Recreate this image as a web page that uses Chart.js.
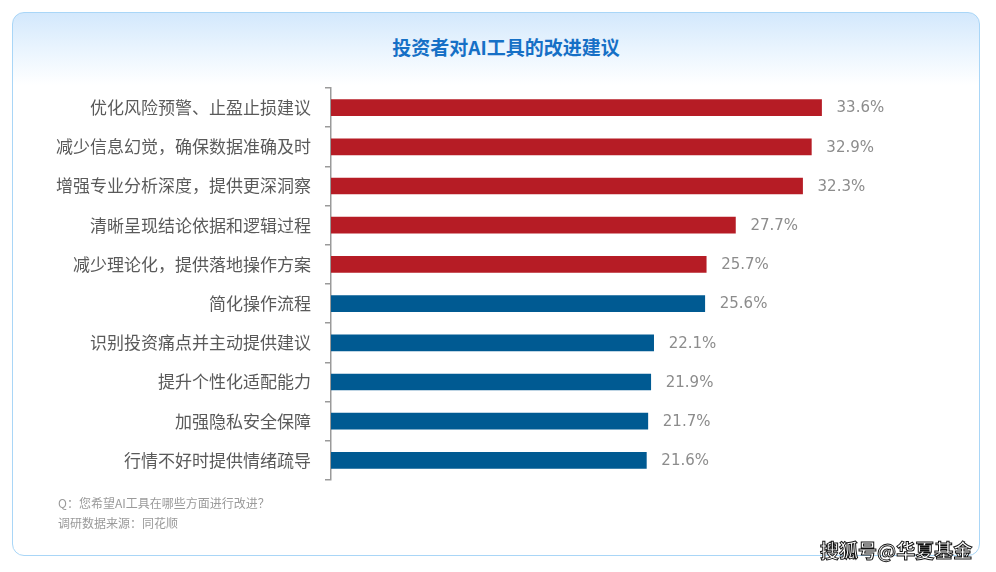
<!DOCTYPE html>
<html>
<head>
<meta charset="utf-8">
<script src="https://cdn.jsdelivr.net/npm/chart.js@4/dist/chart.umd.min.js"></script>
<style>
  html, body { margin: 0; padding: 0; background: #fff; }
  #wrap { position: relative; width: 996px; height: 572px; overflow: hidden; font-family: "Noto Sans CJK SC", sans-serif; }
  #card {
    position: absolute; left: 12px; top: 12px; width: 966px; height: 542px;
    border: 1.5px solid #a9d6f7; border-radius: 12px;
    background: linear-gradient(to bottom, #d3e8fc 0px, #e9f4fe 35px, #ffffff 72px, #ffffff 100%);
  }
  #title {
    position: absolute; left: 0; width: 1012px; top: 33px; text-align: center;
    font-size: 19px; font-weight: bold; color: #1670c6;
  }
  .note { position: absolute; left: 58px; font-size: 12px; color: #9a9a9a; }
  #mark {
    position: absolute; left: 820px; top: 536px; font-size: 19px; font-weight: bold; color: #fff;
    -webkit-text-stroke: 1px #111;
  }
  canvas { position: absolute; left: 0; top: 0; }
</style>
</head>
<body>
<div id="wrap">
  <div id="card"></div>
  <div id="title">投资者对AI工具的改进建议</div>
  <canvas id="chart1Canvas" width="996" height="572"></canvas>
  <div class="note" style="top:494px;">Q：您希望AI工具在哪些方面进行改进？</div>
  <div class="note" style="top:514px;">调研数据来源：同花顺</div>
  <div id="mark">搜狐号@华夏基金</div>
</div>
<script>
// 类别
const categories = [
  '优化风险预警、止盈止损建议',
  '减少信息幻觉，确保数据准确及时',
  '增强专业分析深度，提供更深洞察',
  '清晰呈现结论依据和逻辑过程',
  '减少理论化，提供落地操作方案',
  '简化操作流程',
  '识别投资痛点并主动提供建议',
  '提升个性化适配能力',
  '加强隐私安全保障',
  '行情不好时提供情绪疏导'
];
// 占比 (%)
const values = [33.6, 32.9, 32.3, 27.7, 25.7, 25.6, 22.1, 21.9, 21.7, 21.6];
// 前5项红色，其余蓝色
const barColors = values.map((v, i) => i < 5 ? '#b61c25' : '#005a92');

// 数值标签
const valueLabels = {
  id: 'valueLabels',
  afterDatasetsDraw(chart) {
    const ctx = chart.ctx;
    const meta = chart.getDatasetMeta(0);
    ctx.save();
    ctx.font = '15px "DejaVu Sans", sans-serif';
    ctx.fillStyle = '#8c8c8c';
    ctx.textAlign = 'left';
    ctx.textBaseline = 'middle';
    meta.data.forEach((bar, i) => {
      ctx.fillText(values[i].toFixed(1) + '%', bar.x + 15, bar.y + 1);
    });
    ctx.restore();
  }
};

var ctx = document.getElementById('chart1Canvas').getContext('2d');
var myChart = new Chart(ctx, {
  type: 'bar',
  data: {
    labels: categories,
    datasets: [{
      data: values,
      backgroundColor: barColors,
      barThickness: 16,
      borderWidth: 0
    }]
  },
  options: {
    indexAxis: 'y',
    responsive: false,
    animation: false,
    layout: { padding: { left: 0, right: 81, top: 88, bottom: 92 } },
    plugins: {
      legend: { display: false },
      tooltip: { enabled: false }
    },
    scales: {
      x: { display: false, min: 0, max: 40 },
      y: {
        afterFit: (scale) => { scale.width = 331; },
        border: { display: true, color: '#9a9a9a', width: 1.5 },
        grid: { drawOnChartArea: false, drawTicks: true, tickLength: 6, color: '#9a9a9a', lineWidth: 1.5 },
        ticks: {
          padding: 14,
          color: '#5a5a5a',
          font: { family: '"Noto Sans CJK SC", sans-serif', size: 17 }
        }
      }
    }
  },
  plugins: [valueLabels]
});
</script>
</body>
</html>
